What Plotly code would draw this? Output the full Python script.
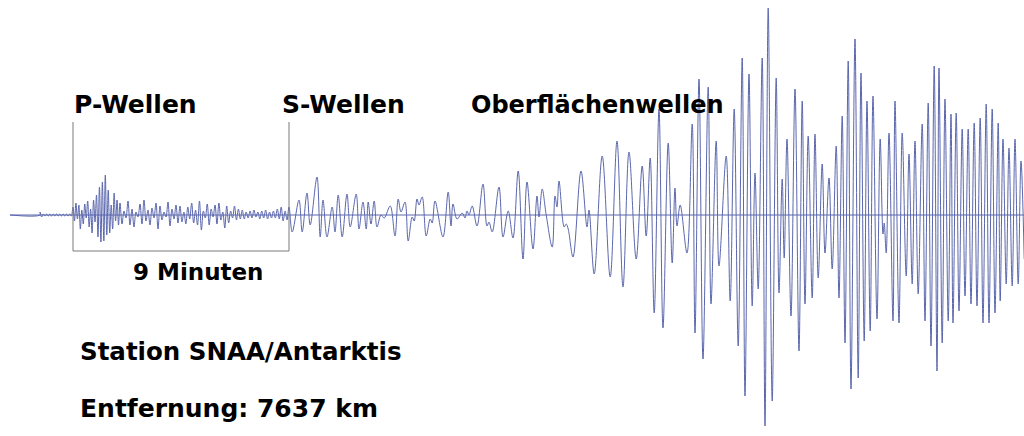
import numpy as np
import plotly.graph_objects as go

# Seismogramm Station SNAA (Antarktis), Zeit in s ab Einsatz der P-Wellen
quiet_t = [-157.5, -82.5]
quiet_amp = [0, 0]

# gleichmaessig verteilte Extrema im fruehen Teil: Start, Ende, Amplituden
pre_span = (-82.5, 0.0)
pre_amp = [3, -2, 1, -1, 1, -1, 1, -1, 1, -1, 1, -1, 1, -1, 1, -1, 1, -1, 1, -1]

p1_span = (0.0, 117.5)
p1_amp = [8, -6, 12, -4, 10, -14, 5, -9, 11, -3, 14, -12, 6, -18, 15, -7,
          20, -22, 28, -27, 33, -26, 40, -20, 25, -18, 10, -14, 22, -6, 15, -10]

p2_span = (117.5, 267.5)
p2_amp = [12, -9, 4, -3, 14, -10, 6, -12, 3, -2, 11, -9, 15, -6, 5, -10,
          7, -3, 12, -14, 9, -5, 3, -2, 13, -11, 6, -4, 10, -8]

p3_span = (267.5, 540.0)
p3_amp = [9, -7, 3, -9, 8, -4, 12, -8, 5, -10, 14, -15, 4, -3, 11, -10,
          6, -2, 10, -9, 12, -5, 3, -13, 9, -8, 4, -3, 9, -5, 6, -4,
          5, -4, 3, -3, 4, -3, 5, -2, 3, -4, 4, -3, 5, -4, 3, -3,
          4, -3, 6, -4, 8, -6, 4, -5]

late_t = [540, 548, 565, 573, 585, 593, 610, 618, 625, 635, 648, 655, 663, 673,
          685, 693, 708, 715, 725, 733, 738, 745, 753, 760, 770, 778, 793, 805,
          813, 820, 830, 838, 848, 853, 860, 865, 873, 883, 893, 898, 905, 925,
          938, 945, 950, 960, 973, 980, 985, 990, 998, 1010, 1025, 1035, 1040,
          1048, 1065, 1075, 1088, 1100, 1113, 1125, 1135, 1150, 1160, 1165, 1173,
          1183, 1198, 1205, 1210, 1215, 1228, 1233, 1238, 1250, 1270, 1285, 1290,
          1303, 1323, 1343, 1360, 1375, 1390, 1408, 1423, 1433, 1443, 1453, 1465,
          1475, 1488, 1498, 1505, 1510, 1518, 1535, 1548, 1555, 1565, 1575, 1588,
          1595, 1608, 1615, 1633, 1643, 1653, 1663, 1673, 1680, 1690, 1698, 1705,
          1713, 1723, 1730, 1738, 1748, 1758, 1765, 1773, 1778, 1785, 1795, 1805,
          1815, 1823, 1830, 1838, 1848, 1855, 1863, 1873, 1880, 1890, 1898, 1908,
          1915, 1923, 1930, 1938, 1945, 1955, 1963, 1970, 1978, 1985, 1993, 2000,
          2010, 2018, 2025, 2028, 2033, 2040, 2050, 2055, 2065, 2073, 2083, 2090,
          2098, 2105, 2113, 2123, 2130, 2138, 2145, 2153, 2160, 2165, 2173, 2180,
          2188, 2195, 2200, 2208, 2215, 2223, 2230, 2238, 2245, 2253, 2260, 2268,
          2275, 2283, 2290, 2298, 2305, 2313, 2318, 2325, 2333, 2340, 2348, 2355,
          2363, 2370, 2378]
late_amp = [8, -17, 15, -17, 22, -10, 38, -22, 15, -22, 8, -17, 20, -22,
            21, -12, 21, -14, 13, -14, 13, -9, 14, -12, 0, -3, 9, -21,
            16, 3, 13, -26, -2, -6, 16, 10, 18, -21, -4, -8, 14, -22,
            23, -11, 11, -4, 2, -3, 4, 0, 9, -11, 31, -11, -7,
            -17, 28, -22, 4, -23, 44, -44, 33, -34, 19, -2, 26,
            0, -32, 19, 8, 34, -12, -9, -14, -42, 44, -12, 5,
            -59, 59, -62, 74, -72, 63, -44, 49, -21, 57, -98, 106,
            -113, 72, -48, 27, -11, 10, -38, 91, -118, 136, -144, 128,
            -89, 74, -51, 59, -86, 106, -131, 157, -181, 141, -91, 42,
            -74, 157, -211, 207, -186, 137, -78, 36, -43, 76, -101, 126,
            -136, 114, -89, 79, -83, 81, -63, 51, -38, 37, -54, 69,
            -83, 99, -128, 154, -174, 176, -163, 142, -126, 114, -116, 119,
            -104, 76, -19, -8, -38, 82, -106, 114, -108, 82, -61, 61,
            -69, 74, -79, 91, -106, 112, -131, 149, -156, 147, -128, 116,
            -106, 101, -108, 102, -96, 86, -81, 86, -89, 92, -91, 97,
            -108, 111, -108, 106, -98, 92, -86, 76, -69, 67, -71, 76,
            -69, 54, -44]

p_arrival = 0
s_arrival = 540

t_parts = [np.array(quiet_t, float)]
a_parts = [np.array(quiet_amp, float)]
for (t0, t1), amps in [(pre_span, pre_amp), (p1_span, p1_amp),
                       (p2_span, p2_amp), (p3_span, p3_amp)]:
    t_parts.append(np.linspace(t0, t1, len(amps), endpoint=False))
    a_parts.append(np.array(amps, float))
t_parts.append(np.array(late_t, float))
a_parts.append(np.array(late_amp, float))
t = np.concatenate(t_parts)
amp = np.concatenate(a_parts)

wave_col = "#5b67ad"
font_fam = "Comic Sans MS, DejaVu Sans, sans-serif"

fig = go.Figure()
fig.add_trace(go.Scatter(x=[t[0], t[-1]], y=[0, 0], mode="lines",
                         line=dict(color=wave_col, width=1), hoverinfo="skip"))
fig.add_trace(go.Scatter(x=t, y=amp, mode="lines",
                         line=dict(color=wave_col, width=1, shape="spline", smoothing=1)))

# Klammer P bis S
br = dict(type="line", xref="x", yref="y", line=dict(color="#7a7a7a", width=1))
fig.add_shape(x0=p_arrival, x1=p_arrival, y0=93, y1=-36, **br)
fig.add_shape(x0=s_arrival, x1=s_arrival, y0=93, y1=-36, **br)
fig.add_shape(x0=p_arrival, x1=s_arrival, y0=-36, y1=-36, **br)

labels = [
    ("P-Wellen", 0.0700, 0.760, 25),
    ("S-Wellen", 0.2730, 0.760, 25),
    ("Oberflächenwellen", 0.458, 0.760, 24),
    ("9 Minuten", 0.128, 0.376, 23),
    ("Station SNAA/Antarktis", 0.076, 0.193, 24.5),
    ("Entfernung: 7637 km", 0.076, 0.064, 25),
]
for txt, x, y, size in labels:
    fig.add_annotation(text="<b>" + txt + "</b>", x=x, y=y, xref="paper", yref="paper",
                       xanchor="left", yanchor="middle", showarrow=False,
                       font=dict(family=font_fam, size=size, color="black"))

fig.update_layout(
    width=1024, height=436,
    margin=dict(l=0, r=0, t=0, b=0),
    paper_bgcolor="white", plot_bgcolor="white",
    showlegend=False,
    xaxis=dict(range=[-182.5, 2377.5], visible=False),
    yaxis=dict(range=[-221, 215], visible=False),
)

fig.write_html("out.html", config={"displayModeBar": False},
               post_script="document.body.style.margin='0';")
